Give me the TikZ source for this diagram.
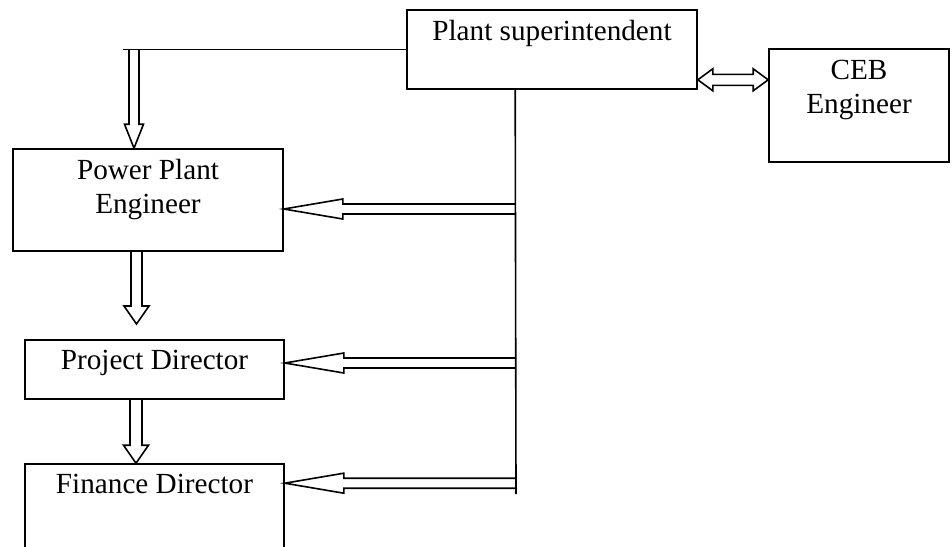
\documentclass[tikz,border=0pt]{standalone}
\usepackage{fontspec}
\setmainfont{Liberation Serif}
\usetikzlibrary{calc}
\newcommand\hollowdown[5]{%
  \draw[conn] let \p1=(#1), \p2=(#2) in
    (\x1-#3pt,\y1) -- (\x1-#3pt,\y2+#5pt) -- (\x1-#4pt,\y2+#5pt) -- (\x1,\y2)
    -- (\x1+#4pt,\y2+#5pt) -- (\x1+#3pt,\y2+#5pt) -- (\x1+#3pt,\y1);}
\newcommand\hollowleft[5]{%
  \draw[conn] let \p1=(#1), \p2=(#2) in
    (\x1,\y2+#3pt) -- (\x2+#5pt,\y2+#3pt) -- (\x2+#5pt,\y2+#4pt) -- (\x2,\y2)
    -- (\x2+#5pt,\y2-#4pt) -- (\x2+#5pt,\y2-#3pt) -- (\x1,\y2-#3pt);}
\newcommand\hollowboth[5]{%
  \draw[conn] let \p1=(#1), \p2=(#2) in
    (\x1,\y1) -- (\x1+#5pt,\y1+#4pt) -- (\x1+#5pt,\y1+#3pt) -- (\x2-#5pt,\y1+#3pt)
    -- (\x2-#5pt,\y1+#4pt) -- (\x2,\y1) -- (\x2-#5pt,\y1-#4pt) -- (\x2-#5pt,\y1-#3pt)
    -- (\x1+#5pt,\y1-#3pt) -- (\x1+#5pt,\y1-#4pt) -- cycle;}
\begin{document}
\begin{tikzpicture}[x=1pt,y=-1pt,
  box/.style={draw, line width=1.6pt, inner sep=0pt, rectangle},
  lbl/.style={font=\fontsize{29.2}{34}\selectfont, inner sep=0pt, anchor=north, align=center},
  conn/.style={draw, line width=1.6pt, line join=miter}]
\clip (0,0) rectangle (952,546);
\fill[white] (0,0) rectangle (952,546);
% boxes
\node[box, minimum width=290pt, minimum height=79pt] (ps) at (552,49.5) {};
\node[box, minimum width=180pt, minimum height=113pt] (ceb) at (859,105.5) {};
\node[box, minimum width=270pt, minimum height=102pt] (ppe) at (148,200) {};
\node[box, minimum width=259pt, minimum height=59pt] (pd) at (154.5,369.5) {};
\node[box, minimum width=259pt, minimum height=120pt] (fd) at (154.5,524) {};
% labels
\node[lbl] (pst) at ($(ps.north)+(0,7)$) {\strut Plant superintendent};
\node[lbl] (cebt) at ($(ceb.north)+(0,7.5)$) {\strut CEB\\Engineer};
\node[lbl] (ppet) at ($(ppe.north)+(0,7.5)$) {\strut Power Plant\\Engineer};
\node[lbl] (pdt) at ($(pd.north)+(0,6.5)$) {\strut Project Director};
\node[lbl] (fdt) at ($(fd.north)+(0,6.5)$) {\strut Finance Director};
% coordinates
\coordinate (vtop) at ($(ps.south west)+(109,0)$);
\coordinate (vbot) at (516,494);
\coordinate (hl) at (123,49.5);
\coordinate (a1t) at (134,49.5);
\coordinate (a1h) at (a1t |- ppe.north);
\coordinate (a2t) at (136.5,0 |- ppe.south);
\coordinate (a2h) at (136.5,324);
\coordinate (a3t) at (136,0 |- pd.south);
\coordinate (a3h) at (a3t |- fd.north);
\coordinate (tipppe) at ($(ppe.east)+(0,9)$);
\coordinate (tippd) at ($(pd.east)+(0,-6.5)$);
\coordinate (tipfd) at ($(fd.north east)+(0,20)$);
\coordinate (dl) at ($(ps.south east)+(0,-10)$);
\coordinate (dr) at (ceb.west |- dl);
% lines
\draw[conn] (ps.west) -- (hl);
\draw[conn] (vtop) -- (vbot);
% hollow arrows
\hollowdown{a1t}{a1h}{5}{9.5}{24}
\hollowdown{a2t}{a2h}{5.5}{12.5}{18}
\hollowdown{a3t}{a3h}{6}{12.5}{18}
\hollowleft{vtop |- tipppe}{tipppe}{5}{10}{59}
\hollowleft{vtop |- tippd}{tippd}{5}{10}{59}
\hollowleft{vtop |- tipfd}{tipfd}{5}{10}{59}
\hollowboth{dl}{dr}{5.5}{11}{15}
\end{tikzpicture}
\end{document}
